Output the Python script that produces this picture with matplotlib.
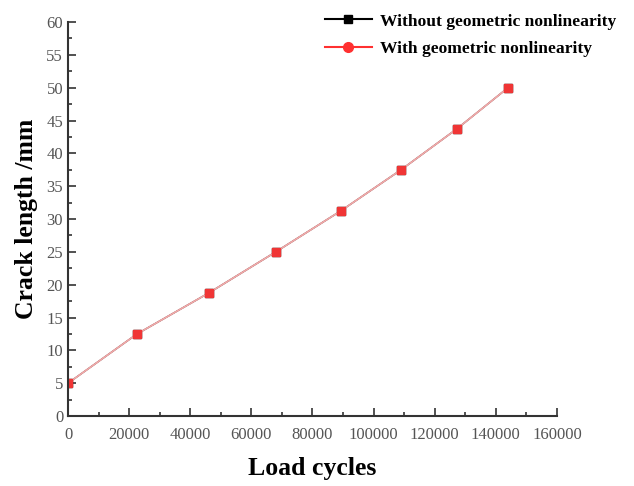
import matplotlib.pyplot as plt
from matplotlib.lines import Line2D

# data
cycles = [0, 22600, 46100, 68000, 89300, 109000, 127300, 144000]
crack_without = [5, 12.5, 18.75, 25, 31.25, 37.5, 43.75, 50]
crack_with = [5, 12.5, 18.75, 25, 31.25, 37.5, 43.75, 50]

plt.rcParams['font.family'] = ['Liberation Serif', 'DejaVu Serif']

fig = plt.figure(figsize=(6.34, 4.86), dpi=100)
ax = fig.add_axes([0.1073, 0.144, 0.7712, 0.8107])

ax.plot(cycles, crack_without, color='black', marker='s', markersize=5.5, lw=1)
ax.plot(cycles, crack_with, color='#f2a8a8', lw=1.3, marker='s', markersize=6,
        markerfacecolor='#f03535', markeredgecolor='#f03535')

ax.set_xlim(0, 160000)
ax.set_ylim(0, 60)
ax.set_xticks(range(0, 160001, 20000))
ax.set_yticks(range(0, 61, 5))
ax.set_xticks(range(10000, 160000, 20000), minor=True)
ax.set_yticks([x + 2.5 for x in range(0, 60, 5)], minor=True)
ax.tick_params(which='both', direction='in', colors='#333333', labelcolor='#555555',
               labelsize=12, width=1.2)
ax.tick_params(which='major', length=6)
ax.tick_params(which='minor', length=3)
ax.tick_params(axis='x', pad=8)

for s in ['top', 'right']:
    ax.spines[s].set_visible(False)
for s in ['left', 'bottom']:
    ax.spines[s].set_linewidth(1.5)
    ax.spines[s].set_color('#333333')

ax.set_xlabel('Load cycles', fontsize=18.5, fontweight='bold', labelpad=10)
ax.set_ylabel('Crack length /mm', fontsize=18.5, fontweight='bold', labelpad=6)

handles = [
    Line2D([], [], color='black', marker='s', markersize=6, lw=1.5),
    Line2D([], [], color='#ff3030', marker='o', markersize=7, lw=1.5),
]
labels = ['Without geometric nonlinearity', 'With geometric nonlinearity']
fig.legend(handles, labels, loc='upper left', bbox_to_anchor=(0.487, 1.005),
           frameon=False, prop={'weight': 'bold', 'size': 12.6}, handlelength=2.7,
           handletextpad=0.45, labelspacing=0.65)

fig.savefig('out.png', dpi=100)
